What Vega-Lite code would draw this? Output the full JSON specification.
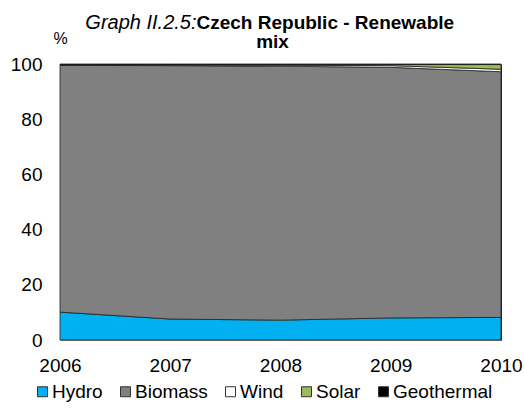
{
  "$schema": "https://vega.github.io/schema/vega-lite/v6.json",
  "width": 441,
  "height": 276,
  "autosize": {"type": "none"},
  "padding": {"left": 60, "top": 64, "right": 23, "bottom": 68},
  "background": "white",
  "config": {
    "font": "Liberation Sans",
    "view": {"stroke": null},
    "axis": {"grid": false, "labelFont": "Liberation Sans", "titleFont": "Liberation Sans", "labelColor": "#000", "titleColor": "#000"}
  },
  "data": {
    "values": [
      {"year": 2006, "source": "Hydro", "ord": 1, "value": 10.1},
      {"year": 2006, "source": "Biomass", "ord": 2, "value": 89.4},
      {"year": 2006, "source": "Wind", "ord": 3, "value": 0.2},
      {"year": 2006, "source": "Solar", "ord": 4, "value": 0.0},
      {"year": 2006, "source": "Geothermal", "ord": 5, "value": 0.3},
      {"year": 2007, "source": "Hydro", "ord": 1, "value": 7.6},
      {"year": 2007, "source": "Biomass", "ord": 2, "value": 91.8},
      {"year": 2007, "source": "Wind", "ord": 3, "value": 0.3},
      {"year": 2007, "source": "Solar", "ord": 4, "value": 0.0},
      {"year": 2007, "source": "Geothermal", "ord": 5, "value": 0.3},
      {"year": 2008, "source": "Hydro", "ord": 1, "value": 7.2},
      {"year": 2008, "source": "Biomass", "ord": 2, "value": 92.0},
      {"year": 2008, "source": "Wind", "ord": 3, "value": 0.4},
      {"year": 2008, "source": "Solar", "ord": 4, "value": 0.1},
      {"year": 2008, "source": "Geothermal", "ord": 5, "value": 0.3},
      {"year": 2009, "source": "Hydro", "ord": 1, "value": 8.0},
      {"year": 2009, "source": "Biomass", "ord": 2, "value": 90.8},
      {"year": 2009, "source": "Wind", "ord": 3, "value": 0.6},
      {"year": 2009, "source": "Solar", "ord": 4, "value": 0.4},
      {"year": 2009, "source": "Geothermal", "ord": 5, "value": 0.2},
      {"year": 2010, "source": "Hydro", "ord": 1, "value": 8.2},
      {"year": 2010, "source": "Biomass", "ord": 2, "value": 89.0},
      {"year": 2010, "source": "Wind", "ord": 3, "value": 0.9},
      {"year": 2010, "source": "Solar", "ord": 4, "value": 1.7},
      {"year": 2010, "source": "Geothermal", "ord": 5, "value": 0.2}
    ]
  },
  "layer": [
    {
      "mark": {"type": "area", "stroke": "#222", "strokeWidth": 0.8},
      "encoding": {
        "x": {
          "field": "year", "type": "quantitative",
          "scale": {"domain": [2006, 2010], "nice": false, "zero": false},
          "axis": {
            "values": [2006, 2007, 2008, 2009, 2010], "format": "d",
            "labelFontSize": 19, "labelPadding": 16, "ticks": false,
            "domainColor": "#888", "labelFlush": false,
            "title": "mix", "titleFontSize": 19, "titleFontWeight": "bold",
            "titleX": 212, "titleY": -293, "titleBaseline": "alphabetic", "titleAlign": "center"
          }
        },
        "y": {
          "field": "value", "type": "quantitative", "stack": "zero",
          "scale": {"domain": [0, 100], "nice": false},
          "axis": {
            "values": [0, 20, 40, 60, 80, 100], "labelFontSize": 19, "ticks": false,
            "labelPadding": 18, "domainColor": "#888",
            "title": "%", "titleFontSize": 16, "titleFontWeight": "normal", "titleAngle": 0,
            "titleX": 0, "titleY": -21, "titleAlign": "center", "titleBaseline": "alphabetic"
          }
        },
        "color": {
          "field": "source", "type": "nominal",
          "scale": {
            "domain": ["Hydro", "Biomass", "Wind", "Solar", "Geothermal"],
            "range": ["#00B0F0", "#808080", "#FFFFFF", "#9BBB59", "#000000"]
          },
          "legend": {
            "orient": "none", "direction": "horizontal", "title": null,
            "legendX": -27, "legendY": 318,
            "symbolType": "square", "symbolSize": 100, "symbolStrokeColor": "#333", "symbolStrokeWidth": 1,
            "symbolOpacity": 1, "labelFontSize": 19, "labelOffset": 0, "columnPadding": 13,
            "labelColor": "#000", "labelFont": "Liberation Sans"
          }
        },
        "order": {"field": "ord", "type": "quantitative"}
      }
    },
    {
      "mark": {"type": "line", "opacity": 0},
      "encoding": {
        "x": {
          "field": "year", "type": "quantitative",
          "axis": {
            "orient": "top", "labels": false, "ticks": false, "domain": false,
            "title": "Czech Republic - Renewable", "titleFontSize": 19, "titleFontWeight": "bold",
            "titleX": 136, "titleY": -36, "titleAlign": "left", "titleBaseline": "alphabetic"
          }
        },
        "y": {
          "field": "value", "type": "quantitative",
          "axis": {
            "orient": "right", "labels": false, "ticks": false, "domainColor": "#222",
            "title": "Graph II.2.5:", "titleFontSize": 20, "titleFontWeight": "normal", "titleFontStyle": "italic",
            "titleAngle": 0, "titleX": -305, "titleY": -36, "titleAlign": "right", "titleBaseline": "alphabetic"
          }
        },
        "detail": {"field": "source", "type": "nominal"}
      }
    }
  ],
  "resolve": {"axis": {"x": "independent", "y": "independent"}}
}
